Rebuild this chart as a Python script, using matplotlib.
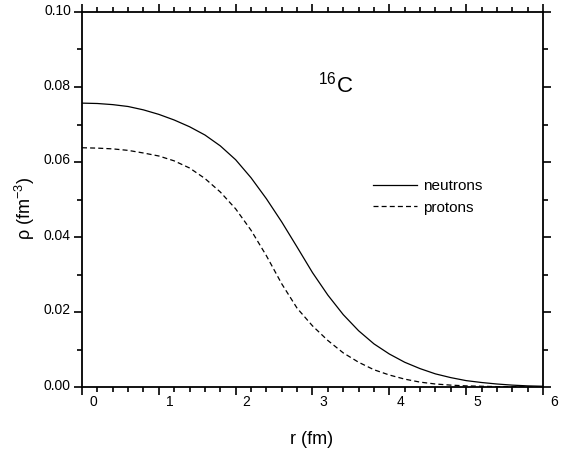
import matplotlib
matplotlib.use("Agg")
import matplotlib.pyplot as plt
from matplotlib.ticker import MultipleLocator
from matplotlib.transforms import ScaledTranslation

plt.rcParams['font.family'] = ['Liberation Sans', 'DejaVu Sans']
plt.rcParams['mathtext.default'] = 'regular'

r_vals = [0.0, 0.2, 0.4, 0.6, 0.8, 1.0, 1.2, 1.4, 1.6, 1.8, 2.0, 2.2, 2.4,
          2.6, 2.8, 3.0, 3.2, 3.4, 3.6, 3.8, 4.0, 4.2, 4.4, 4.6, 4.8, 5.0,
          5.2, 5.4, 5.6, 5.8, 6.0]
neutrons = [0.0757, 0.0756, 0.0753, 0.0748, 0.0739, 0.0727, 0.0712, 0.0694,
            0.0672, 0.0643, 0.0606, 0.0558, 0.0502, 0.0440, 0.0373, 0.0305,
            0.0245, 0.0193, 0.0150, 0.0115, 0.0088, 0.0066, 0.0049, 0.0035,
            0.0025, 0.0017, 0.0012, 0.0008, 0.0005, 0.0003, 0.0002]
protons = [0.0638, 0.0637, 0.0635, 0.0631, 0.0624, 0.0616, 0.0603, 0.0584,
           0.0556, 0.0520, 0.0475, 0.0418, 0.0350, 0.0275, 0.0210, 0.0163,
           0.0124, 0.0091, 0.0066, 0.0046, 0.0032, 0.0021, 0.0013, 0.0008,
           0.0005, 0.0003, 0.0002, 0.0001, 0.0001, 0.0000, 0.0000]

series_labels = ["neutrons", "protons"]
nucleus_label = "$^{16}$C"
x_label = "r (fm)"
y_label = "ρ (fm$^{-3}$)"

fig = plt.figure(figsize=(5.74, 4.53), dpi=100)
ax = fig.add_axes([82/574, 1-387/453, 461/574, 375/453])

ax.plot(r_vals, neutrons, color='black', lw=0.9, label=series_labels[0])
ax.plot(r_vals, protons, color='black', lw=0.9, linestyle=(0, (4, 2.5)),
        label=series_labels[1])

ax.set_xlim(0, 6)
ax.set_ylim(0, 0.10)
ax.xaxis.set_major_locator(MultipleLocator(1))
ax.xaxis.set_minor_locator(MultipleLocator(0.2))
ax.yaxis.set_major_locator(MultipleLocator(0.02))
ax.yaxis.set_minor_locator(MultipleLocator(0.01))
ax.yaxis.set_major_formatter(plt.FormatStrFormatter('%.2f'))

for s in ax.spines.values():
    s.set_linewidth(1.3)

ax.tick_params(which='both', direction='out', top=True, right=True,
               labeltop=False, labelright=False, width=1.2, colors='black')
ax.tick_params(which='major', length=6)
ax.tick_params(which='minor', length=3.5)
ax.tick_params(axis='x', which='major', labelsize=10, pad=0)
ax.tick_params(axis='y', which='major', labelsize=10, pad=2)

for lbl in ax.get_xticklabels():
    lbl.set_transform(lbl.get_transform() + ScaledTranslation(11/100, 0, fig.dpi_scale_trans))
for lbl in ax.get_yticklabels():
    lbl.set_transform(lbl.get_transform() + ScaledTranslation(0, 3/100, fig.dpi_scale_trans))

ax.set_xlabel(x_label, fontsize=13)
ax.xaxis.set_label_coords(0.498, -0.117)
ax.set_ylabel(y_label, fontsize=13)
ax.yaxis.set_label_coords(-0.098, 0.477)

ax.text((318-82)/461, (387-92)/375, nucleus_label, transform=ax.transAxes,
        fontsize=16, ha='left', va='baseline')

ax.legend(loc='upper left', bbox_to_anchor=((373-82)/461, (387-179)/375),
          frameon=False, fontsize=11, handlelength=2.9, handletextpad=0.4,
          borderpad=0, borderaxespad=0, labelspacing=0.5)

fig.savefig("out.png", dpi=100)
